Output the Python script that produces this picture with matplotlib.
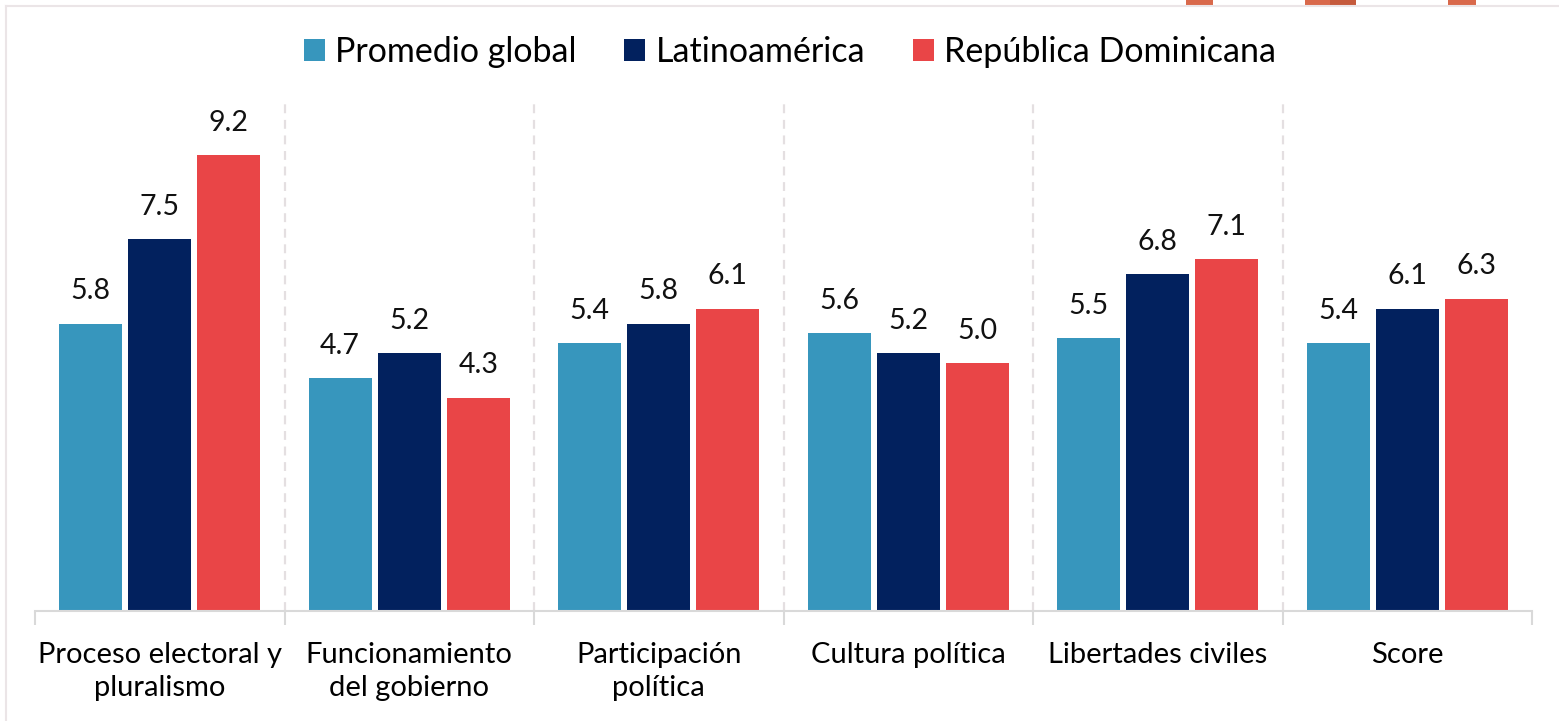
import matplotlib.pyplot as plt
import numpy as np
from matplotlib.lines import Line2D
from matplotlib.patches import Rectangle

plt.rcParams["font.family"] = ["Lato", "DejaVu Sans"]

categories = [
    "Proceso electoral y\npluralismo",
    "Funcionamiento\ndel gobierno",
    "Participación\npolítica",
    "Cultura política",
    "Libertades civiles",
    "Score",
]
series_names = ["Promedio global", "Latinoamérica", "República Dominicana"]
promedio_global = [5.8, 4.7, 5.4, 5.6, 5.5, 5.4]
latinoamerica = [7.5, 5.2, 5.8, 5.2, 6.8, 6.1]
republica_dominicana = [9.2, 4.3, 6.1, 5.0, 7.1, 6.3]
colors = ["#3796bd", "#02215e", "#e94547"]

W, H = 1559, 721
fig = plt.figure(figsize=(W / 100, H / 100), dpi=100)
ax = fig.add_axes([35 / W, 1 - 611 / H, (1532 - 35) / W, (611 - 103) / H])

x = np.arange(len(categories))
width = 0.252
step = 0.277
for k, (vals, name, col) in enumerate(
        zip([promedio_global, latinoamerica, republica_dominicana], series_names, colors)):
    bars = ax.bar(x + (k - 1) * step, vals, width, color=col, label=name)
    for b, v in zip(bars, vals):
        ax.annotate(f"{v:.1f}", (b.get_x() + b.get_width() / 2, v),
                    xytext=(0, 14), textcoords="offset points",
                    ha="center", va="bottom", fontsize=20.5, color="#111111")

ax.set_xlim(-0.5, len(categories) - 0.5)
ax.set_ylim(0, 10.25)
ax.set_yticks([])
for s in ["top", "right", "left"]:
    ax.spines[s].set_visible(False)
ax.spines["bottom"].set_color("#d9d9d9")
ax.spines["bottom"].set_linewidth(1.5)

# category separators
for b in np.arange(0.5, len(categories) - 0.5):
    ax.axvline(b, color="#e4dfe1", lw=1.6, ls=(0, (4, 3)), zorder=0)

ax.set_xticks(x)
ax.set_xticklabels(categories, fontsize=21, linespacing=1.35)
ax.tick_params(axis="x", which="major", length=0, pad=22)
ax.set_xticks(np.arange(-0.5, len(categories)), minor=True)
ax.tick_params(axis="x", which="minor", length=10, width=1.5, color="#d9d9d9")

fig.legend(loc="center", bbox_to_anchor=(790 / W, 1 - 52 / H), ncol=3,
           frameon=False, fontsize=24.5, handlelength=0.62, handleheight=0.62,
           handletextpad=0.3, columnspacing=1.4)

# outer frame and cropped marks at the top edge
fig.add_artist(Line2D([6 / W, 6 / W], [0, 1 - 6 / H], color="#ebe5e7", lw=1.5))
fig.add_artist(Line2D([6 / W, 1], [1 - 6 / H, 1 - 6 / H], color="#ebe5e7", lw=1.5))
for x0, x1, c in [(1186, 1213, "#d9694b"), (1305, 1330, "#d9694b"),
                  (1330, 1356, "#c55a3c"), (1448, 1476, "#d9694b")]:
    fig.add_artist(Rectangle((x0 / W, 1 - 6 / H), (x1 - x0) / W, 6 / H,
                             color=c, lw=0))

fig.savefig("out.png", dpi=100)
